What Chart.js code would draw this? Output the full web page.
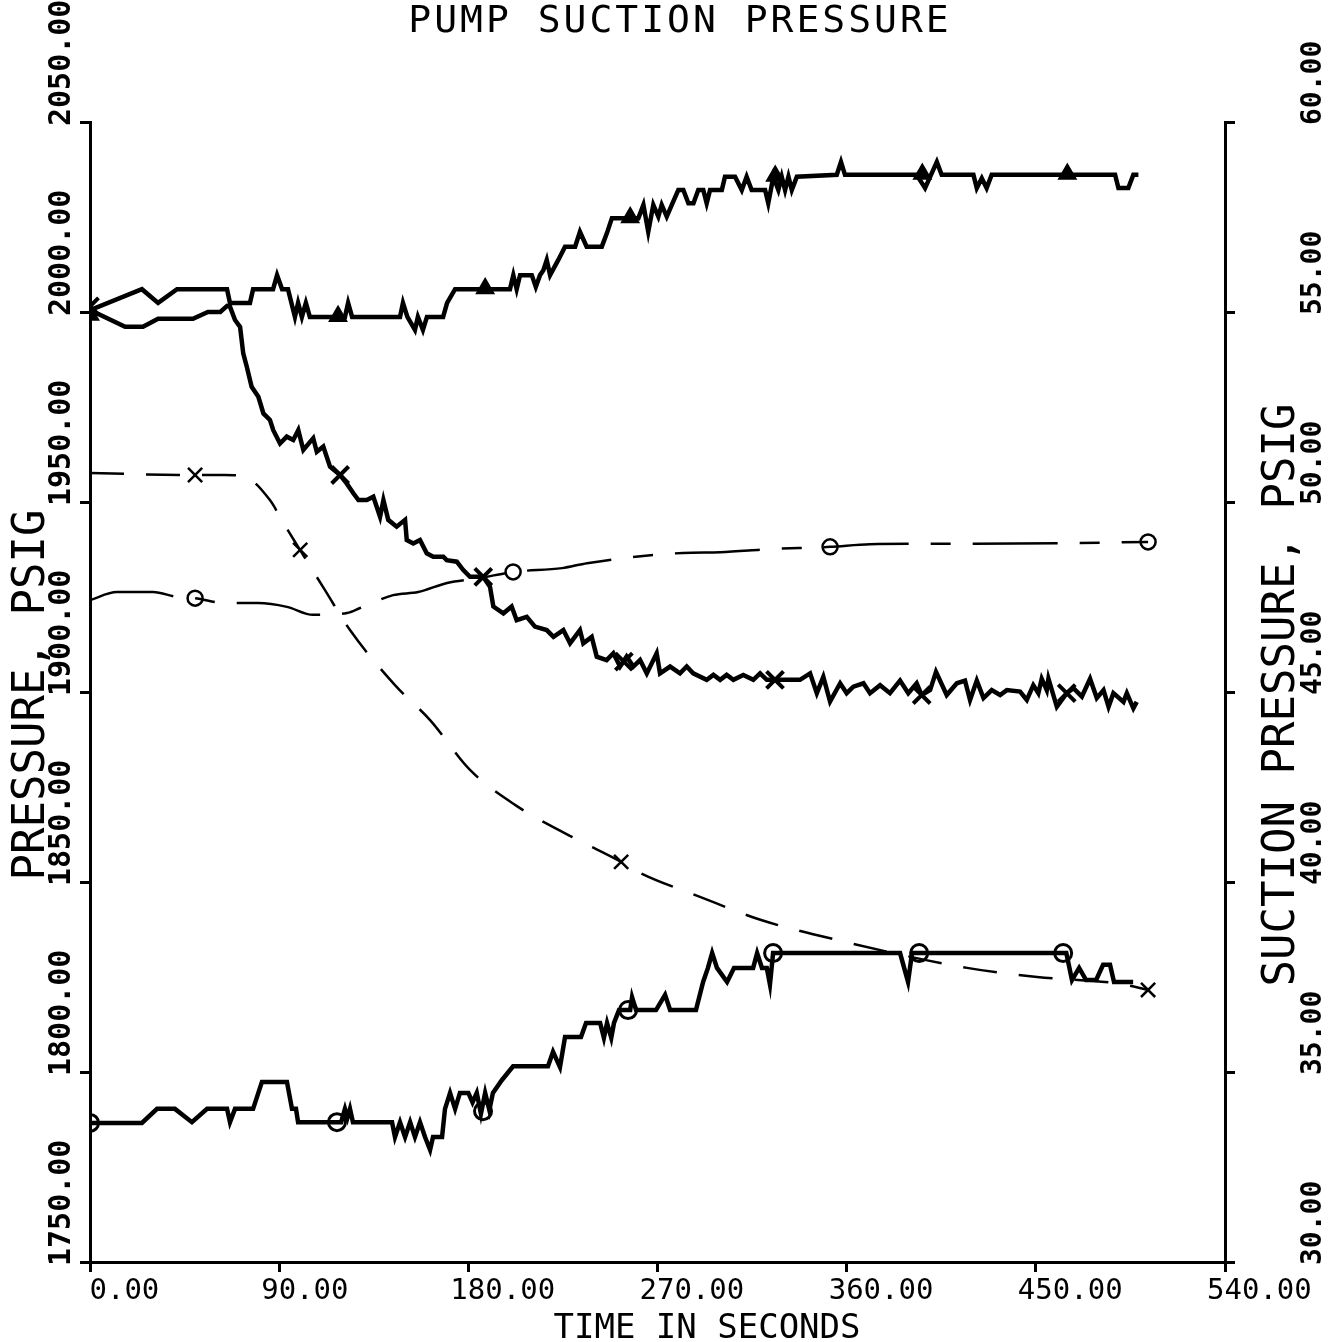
<!DOCTYPE html>
<html>
<head>
<meta charset="utf-8">
<title>Pump suction pressure</title>
<script src="https://cdn.jsdelivr.net/npm/chart.js@4.4.1/dist/chart.umd.min.js"></script>
<style>
  html, body { margin: 0; padding: 0; background: #fff; }
  #wrap { width: 1340px; height: 1342px; }
</style>
</head>
<body>
<div id="wrap"><canvas id="chart" width="1340" height="1342"></canvas></div>
<script>
// ─── DATA ──────────────────────────────────
const timeTicks  = [0, 90, 180, 270, 360, 450, 540];
const pressTicks = [1750, 1800, 1850, 1900, 1950, 2000, 2050];
const suctTicks  = [30, 35, 40, 45, 50, 55, 60];

// solid line, triangle symbols (left axis, psig)
const triTime  = [0, 24.7, 32.4, 41.4, 65.2, 66.6, 76.1, 77.6, 87.1, 89, 91.4, 94.2, 97.5, 99, 100.8, 102.7, 104.6,
  121.3, 122.8, 124.7, 147.5, 148.9, 151, 154.6, 156, 158.4, 160.3, 168, 169.9, 173.7, 199.8, 201.4, 203, 204.6,
  210.2, 212.1, 214.1, 215.7, 217.3, 218.9, 222.8, 226, 230.8, 233.1, 236.3, 243.5, 245.9, 248.3, 260.9, 263.3,
  265.6, 268, 270.4, 272, 274.4, 276.8, 279.9, 282.3, 284.7, 287.1, 289.4, 291.8, 293.4, 295, 300.6, 302.1, 306.9,
  310.1, 312.4, 314.8, 321.2, 322.7, 325.1, 327.5, 329.1, 330.7, 332.3, 333.9, 336.3, 355.3, 357.3, 359.2, 393.3,
  397.3, 402.9, 405.2, 420.3, 421.9, 424.3, 426.6, 429, 487.7, 489.3, 494, 496.4, 498.8];
const triPress = [2000.5, 2006, 2002.4, 2006, 2006, 2002.4, 2002.4, 2006, 2006, 2009.7, 2006, 2006, 1998.7, 2002.4, 1998.7, 2002.4, 1998.7,
  1998.7, 2002.4, 1998.7, 1998.7, 2002.4, 1998.7, 1995.3, 1998.7, 1995.3, 1998.7, 1998.7, 2002.4, 2006, 2006, 2009.7, 2006, 2009.7,
  2009.7, 2006.6, 2009.7, 2011, 2013.7, 2009.7, 2013.7, 2017.2, 2017.2, 2021.1, 2017.2, 2017.2, 2020.7, 2024.7, 2024.7, 2028.2,
  2021.1, 2028.2, 2025.1, 2028.2, 2025.1, 2028.2, 2032.1, 2032.1, 2028.6, 2028.6, 2032.1, 2032.1, 2028.6, 2032.1, 2032.1, 2035.6, 2035.6,
  2032.1, 2035.6, 2032.1, 2032.1, 2028.6, 2035.6, 2032.1, 2035.6, 2032.1, 2035.6, 2032.1, 2035.6, 2036.1, 2039.5, 2036.1, 2036.1,
  2032.6, 2039.5, 2036.1, 2036.1, 2032.6, 2035.2, 2032.6, 2036.1, 2036.1, 2032.6, 2032.6, 2036.1, 2036.1];
const triMarkTime  = [0, 118, 188, 257, 326, 396, 465];
const triMarkPress = [1999.2, 1998.9, 2006.2, 2024.9, 2035.8, 2036.3, 2036.3];

// solid line, x symbols (left axis, psig)
const xSolidTime  = [0, 16.7, 25.2, 32.4, 49, 56.1, 62, 65.2, 66.6, 69, 71.4, 72.9, 74.6, 76.9, 80.1, 82.5, 85.6, 87.2,
  90.4, 93.6, 96.7, 99.1, 101.5, 106.2, 107.9, 111, 114.2, 119, 122.1, 125.3, 127.7, 131.7, 134.8, 138, 139.6, 141.9,
  145.9, 149.9, 150.7, 153.8, 157, 160.2, 163.3, 168.1, 169.7, 174.5, 177.6, 180.8, 187.1, 190.3, 191.9, 196.7, 200.6,
  203, 207.8, 211.7, 217.3, 220.5, 225.2, 228.4, 233.1, 234.7, 238.7, 241.1, 245.8, 249, 252.2, 255.3, 258.5, 261.7,
  264.9, 269.6, 271.2, 276, 280.7, 283.9, 287, 293.4, 296.6, 299.8, 302.9, 306.1, 310.8, 315.6, 318.8, 322, 325.9,
  337.8, 342.6, 345.8, 348.9, 352.1, 356.9, 360, 363.2, 368, 371.1, 375.9, 380.6, 385.4, 389.3, 393.3, 395.7, 399.7,
  402.5, 407.6, 412.4, 416.3, 418.7, 421.9, 425.1, 429, 433, 436.2, 442.5, 445.7, 448.8, 451.2, 452.8, 455.2, 456,
  460, 464.7, 467.9, 471.9, 475.8, 479, 482.2, 484.6, 486.9, 491.7, 493.3, 496.4, 498];
const xSolidPress = [2000.5, 1996.1, 1996.1, 1998.2, 1998.2, 2000, 2000, 2001.6, 2001.4, 1997.9, 1996.1, 1989.1, 1985.6, 1980.3, 1977.7, 1973.3, 1971.6, 1968.9,
  1965.4, 1967.2, 1966.3, 1968.9, 1963.7, 1966.8, 1963.2, 1964.6, 1959.3, 1957.1, 1954.9, 1952.3, 1950.5, 1950.5, 1951.4, 1946.1, 1950.5, 1945.3,
  1943.5, 1945.3, 1940, 1939.1, 1940, 1936.5, 1935.6, 1935.6, 1934.7, 1934.3, 1932.1, 1930.3, 1930.3, 1927.7, 1922.5, 1920.7, 1922.5,
  1918.9, 1919.8, 1917.2, 1916.3, 1914.5, 1916.3, 1912.8, 1916.3, 1912.8, 1914.5, 1909.3, 1908.4, 1910.2, 1906.7, 1909.3, 1906.7, 1908.4,
  1904.9, 1910.2, 1904.9, 1906.7, 1904.9, 1906.7, 1904.9, 1903.2, 1904.5, 1903.2, 1904.5, 1903.2, 1904.5, 1903.2, 1904.9, 1903.2, 1903.2,
  1903.2, 1904.9, 1899.7, 1904, 1897.5, 1902.3, 1899.7, 1901.4, 1902.3, 1899.7, 1901.8, 1899.7, 1903, 1899.7, 1902.3, 1899.2, 1900.5,
  1905.3, 1899.2, 1902.3, 1903, 1897.9, 1903, 1898.4, 1900.5, 1899.2, 1900.5, 1900.1, 1897.9, 1901.8, 1899.7, 1903.5, 1900.5, 1903.5,
  1896.1, 1899.7, 1901, 1898.8, 1903.5, 1898.4, 1900.5, 1896.1, 1899.7, 1897.4, 1899.7, 1895.7, 1897.4];
const xSolidMarkTime  = [0, 119, 187.1, 254, 325.9, 395.7, 464.7];
const xSolidMarkPress = [2001.5, 1957.1, 1930.3, 1908, 1903.2, 1899.2, 1899.7];

// dashed line, x symbols (right axis, psig)
const xDashTime = [0, 50, 64.2, 73.8, 85.6, 91.8, 99.9, 111.8, 123.7, 145.1, 161.8, 180.8, 202.2, 230.3, 252.7,
  261.7, 290.2, 319.3, 357.3, 417.3, 450.6, 490.1, 503.4];
const xDashSuct = [50.76, 50.71, 50.71, 50.66, 50.05, 49.47, 48.74, 47.68, 46.63, 45.18, 44.26, 42.95, 42.03, 41.16, 40.53,
  40.24, 39.61, 39.0, 38.45, 37.74, 37.5, 37.32, 37.16];
const xDashMarkTime = [50, 100, 252.7, 503.4];
const xDashMarkSuct = [50.71, 48.74, 40.53, 37.16];

// long-short dashed line, circle symbols (right axis, psig)
const oDashTime = [0, 12.8, 30, 41.4, 50, 64.2, 79.9, 93.7, 106.1, 122.3, 128.5, 144.2, 156.1, 169.9, 185.6, 201.3,
  224.6, 236.5, 282.1, 299.8, 323.5, 352.1, 371.1, 399.7, 466.3, 503.4];
const oDashSuct = [47.42, 47.63, 47.63, 47.5, 47.47, 47.34, 47.34, 47.24, 47.03, 47.08, 47.21, 47.55, 47.63, 47.87, 48.0, 48.16,
  48.26, 48.39, 48.66, 48.68, 48.76, 48.82, 48.89, 48.9, 48.92, 48.95];
const oDashMarkTime = [50, 201.3, 352.1, 503.4];
const oDashMarkSuct = [47.47, 48.16, 48.82, 48.95];

// solid line, circle symbols (right axis, psig)
const oSolidTime = [0, 24.7, 31.9, 40.4, 48.5, 55.7, 65.2, 66.6, 69, 77.6, 81.8, 93.7, 96.1, 98, 99, 119.5, 121.3, 122.5,
  123.7, 125.1, 143.7, 145.1, 147.5, 149.9, 152.3, 154.6, 157, 159.4, 161.8, 163.2, 167.5, 168.9, 171.3, 173.7, 176, 180,
  182, 184, 186, 188, 190, 191.7, 196, 201.3, 217.9, 220.3, 223.6, 226, 233.6, 236, 242.7, 244.5, 246, 248, 249.3, 251.7,
  257, 257.9, 259.8, 269.3, 273.6, 276, 288.3, 291.7, 294, 296, 298.3, 303.1, 306.4, 315.5, 317.4, 319.7, 322, 323.5,
  325, 385.4, 389.2, 391.1, 461.5, 464.5, 467.2, 470.6, 473.9, 478.7, 482, 485.3, 487.2, 496.3];
const oSolidSuct = [33.66, 33.66, 34.03, 34.03, 33.68, 34.03, 34.03, 33.68, 34.03, 34.03, 34.74, 34.74, 34.03, 34.03, 33.68, 33.68, 34.03, 33.8,
  34.03, 33.68, 33.68, 33.29, 33.68, 33.29, 33.68, 33.29, 33.68, 33.29, 32.95, 33.29, 33.29, 34.03, 34.45, 34.03, 34.45, 34.45,
  34.2, 34.45, 33.9, 34.45, 34.0, 34.45, 34.79, 35.15, 35.15, 35.53, 35.13, 35.92, 35.92, 36.29, 36.29, 35.9, 36.29, 35.9, 36.29, 36.63,
  36.63, 36.97, 36.63, 36.63, 37.03, 36.63, 36.63, 37.37, 37.74, 38.13, 37.74, 37.37, 37.74, 37.74, 38.13, 37.74, 37.74, 37.3,
  38.13, 38.13, 37.37, 38.13, 38.13, 38.13, 37.42, 37.74, 37.42, 37.42, 37.82, 37.82, 37.37, 37.37];
const oSolidMarkTime = [0, 117.5, 187, 256, 325, 394.5, 463];
const oSolidMarkSuct = [33.66, 33.68, 33.97, 36.63, 38.13, 38.13, 38.13];

// ─── HELPERS ──────────────────────────────────
const INK = '#000';
const MONO = '"DejaVu Sans Mono", "Liberation Mono", monospace';

function pts(ts, vs) {
  return ts.map((t, i) => ({ x: t, y: vs[i] }));
}

function lineSet(ts, vs, axis, extra) {
  return Object.assign({
    data: pts(ts, vs),
    yAxisID: axis,
    borderColor: INK,
    borderWidth: 4.5,
    pointRadius: 0,
    tension: 0,
    fill: false,
  }, extra || {});
}

function markSet(ts, vs, axis, style, extra) {
  return Object.assign({
    data: pts(ts, vs),
    yAxisID: axis,
    showLine: false,
    pointStyle: style,
    pointRadius: 8,
    pointBorderWidth: 3,
    pointBorderColor: INK,
    pointBackgroundColor: 'rgba(0,0,0,0)',
  }, extra || {});
}

// rotated tick labels, axis titles and plot title
const plotText = {
  id: 'plotText',
  afterDraw(chart) {
    const ctx = chart.ctx;
    const area = chart.chartArea;
    const yL = chart.scales.yL;
    const yR = chart.scales.yR;
    ctx.save();
    ctx.fillStyle = INK;

    ctx.font = '38px ' + MONO;
    ctx.letterSpacing = '3px';
    ctx.textAlign = 'center';
    ctx.textBaseline = 'alphabetic';
    ctx.fillText('PUMP SUCTION PRESSURE', 680, 32);

    ctx.font = '34px ' + MONO;
    ctx.letterSpacing = '0px';
    ctx.fillText('TIME IN SECONDS', 707, 1338);

    ctx.textBaseline = 'middle';
    ctx.font = '44px ' + MONO;
    ctx.save(); ctx.translate(33, 695); ctx.rotate(-Math.PI / 2);
    ctx.fillText('PRESSURE, PSIG', 0, 0); ctx.restore();
    ctx.save(); ctx.translate(1283, 695); ctx.rotate(-Math.PI / 2);
    ctx.fillText('SUCTION PRESSURE, PSIG', 0, 0); ctx.restore();

    ctx.textAlign = 'left';
    ctx.textBaseline = 'alphabetic';
    ctx.font = 'bold 30px ' + MONO;
    pressTicks.forEach(v => {
      ctx.save();
      ctx.translate(area.left - 20, yL.getPixelForValue(v) + 4);
      ctx.rotate(-Math.PI / 2);
      ctx.fillText(v.toFixed(2), 0, 0);
      ctx.restore();
    });
    ctx.font = 'bold 28px ' + MONO;
    suctTicks.forEach(v => {
      ctx.save();
      ctx.translate(area.right + 96, yR.getPixelForValue(v) + 3);
      ctx.rotate(-Math.PI / 2);
      ctx.fillText(v.toFixed(2), 0, 0);
      ctx.restore();
    });
    ctx.restore();
  }
};

const axisGrid = { drawOnChartArea: false, drawTicks: true, tickLength: 10, lineWidth: 3, color: INK };
const axisBorder = { display: true, color: INK, width: 3 };

new Chart(document.getElementById('chart'), {
  type: 'line',
  data: {
    datasets: [
      lineSet(triTime, triPress, 'yL'),
      lineSet(xSolidTime, xSolidPress, 'yL'),
      lineSet(oSolidTime, oSolidSuct, 'yR'),
      lineSet(xDashTime, xDashSuct, 'yR', { borderWidth: 2.5, borderDash: [34, 22], cubicInterpolationMode: 'monotone' }),
      lineSet(oDashTime, oDashSuct, 'yR', { borderWidth: 2.5, borderDash: [85, 22, 20, 22], cubicInterpolationMode: 'monotone' }),
      markSet(triMarkTime, triMarkPress, 'yL', 'triangle', { pointRadius: 10, pointBackgroundColor: INK, pointBorderWidth: 1.5 }),
      markSet(xSolidMarkTime, xSolidMarkPress, 'yL', 'crossRot', { pointRadius: 12, pointBorderWidth: 4 }),
      markSet(oSolidMarkTime, oSolidMarkSuct, 'yR', 'circle', { pointRadius: 8.5, pointBorderWidth: 3 }),
      markSet(xDashMarkTime, xDashMarkSuct, 'yR', 'crossRot', { pointRadius: 10, pointBorderWidth: 2.5 }),
      markSet(oDashMarkTime, oDashMarkSuct, 'yR', 'circle', { pointRadius: 7.5, pointBorderWidth: 2.5 }),
    ]
  },
  options: {
    responsive: false,
    animation: false,
    devicePixelRatio: 1,
    layout: { padding: { top: 122, left: 0, right: 0, bottom: 0 } },
    plugins: { legend: { display: false }, tooltip: { enabled: false }, title: { display: false } },
    scales: {
      x: {
        type: 'linear', position: 'bottom', min: 0, max: 540,
        afterBuildTicks: s => { s.ticks = timeTicks.map(v => ({ value: v })); },
        afterFit: s => { s.height = 80; },
        grid: axisGrid, border: axisBorder,
        ticks: {
          color: INK, font: { family: MONO, size: 29 }, align: 'start', labelOffset: -18,
          padding: 2, maxRotation: 0, minRotation: 0, autoSkip: false,
          callback: v => (v === 0 ? ' ' : '') + v.toFixed(2)
        }
      },
      yL: {
        type: 'linear', position: 'left', min: 1750, max: 2050,
        afterBuildTicks: s => { s.ticks = pressTicks.map(v => ({ value: v })); },
        afterFit: s => { s.width = 90; },
        grid: axisGrid, border: axisBorder,
        ticks: { display: false }
      },
      yR: {
        type: 'linear', position: 'right', min: 30, max: 60,
        afterBuildTicks: s => { s.ticks = suctTicks.map(v => ({ value: v })); },
        afterFit: s => { s.width = 115; },
        grid: axisGrid, border: axisBorder,
        ticks: { display: false }
      }
    }
  },
  plugins: [plotText]
});
</script>
</body>
</html>
